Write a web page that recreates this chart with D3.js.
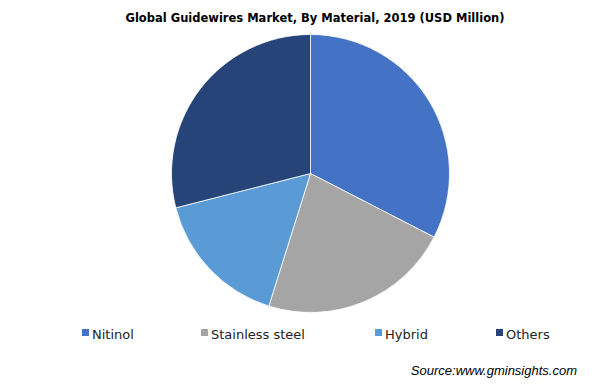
<!DOCTYPE html>
<html>
<head>
<meta charset="utf-8">
<script src="https://cdn.jsdelivr.net/npm/d3@7"></script>
<style>
  body { margin: 0; background: #fff; }
  svg { display: block; }
</style>
</head>
<body>
<svg id="chart" width="616" height="387"></svg>
<script>
// Chart data
const materials = ['Nitinol', 'Stainless steel', 'Hybrid', 'Others'];
const shares = [32.6, 22.3, 16.2, 29.0];
const sliceColors = ['#4472C4', '#A5A5A5', '#5B9BD5', '#264478'];

const width = 616, height = 387;
const svg = d3.select('#chart');

// Title
svg.append('text')
    .attr('x', 315)
    .attr('y', 22)
    .attr('text-anchor', 'middle')
    .style('font-family', 'DejaVu Sans, Verdana, sans-serif')
    .style('font-size', '11.5px')
    .style('font-weight', 'bold')
    .style('fill', '#000')
    .text('Global Guidewires Market, By Material, 2019 (USD Million)');

// Pie
const pieData = d3.pie().sort(null).value(d => d)(shares);
const arc = d3.arc().innerRadius(0).outerRadius(139);

const g = svg.append('g')
    .attr('transform', 'translate(310.5,173.5)');

g.selectAll('path')
    .data(pieData)
    .join('path')
    .attr('d', arc)
    .attr('fill', (d, i) => sliceColors[i])
    .attr('stroke', '#fff')
    .attr('stroke-width', 0.8);

// Legend - one row under the pie
const legendX = [82, 201, 375, 496];
const legend = svg.append('g');

materials.forEach((name, i) => {
    const item = legend.append('g')
        .attr('transform', `translate(${legendX[i]}, 334)`);

    item.append('rect')
        .attr('x', 0)
        .attr('y', -5)
        .attr('width', 7)
        .attr('height', 7)
        .attr('fill', sliceColors[i]);

    item.append('text')
        .attr('x', 10)
        .attr('y', 4.5)
        .style('font-family', 'DejaVu Sans, Verdana, sans-serif')
        .style('font-size', '13px')
        .style('fill', '#222')
        .text(name);
});

// Source note
svg.append('text')
    .attr('x', 577)
    .attr('y', 375)
    .attr('text-anchor', 'end')
    .style('font-family', 'Liberation Sans, Arial, sans-serif')
    .style('font-size', '13px')
    .style('font-style', 'italic')
    .style('fill', '#000')
    .text('Source:www.gminsights.com');
</script>
</body>
</html>
